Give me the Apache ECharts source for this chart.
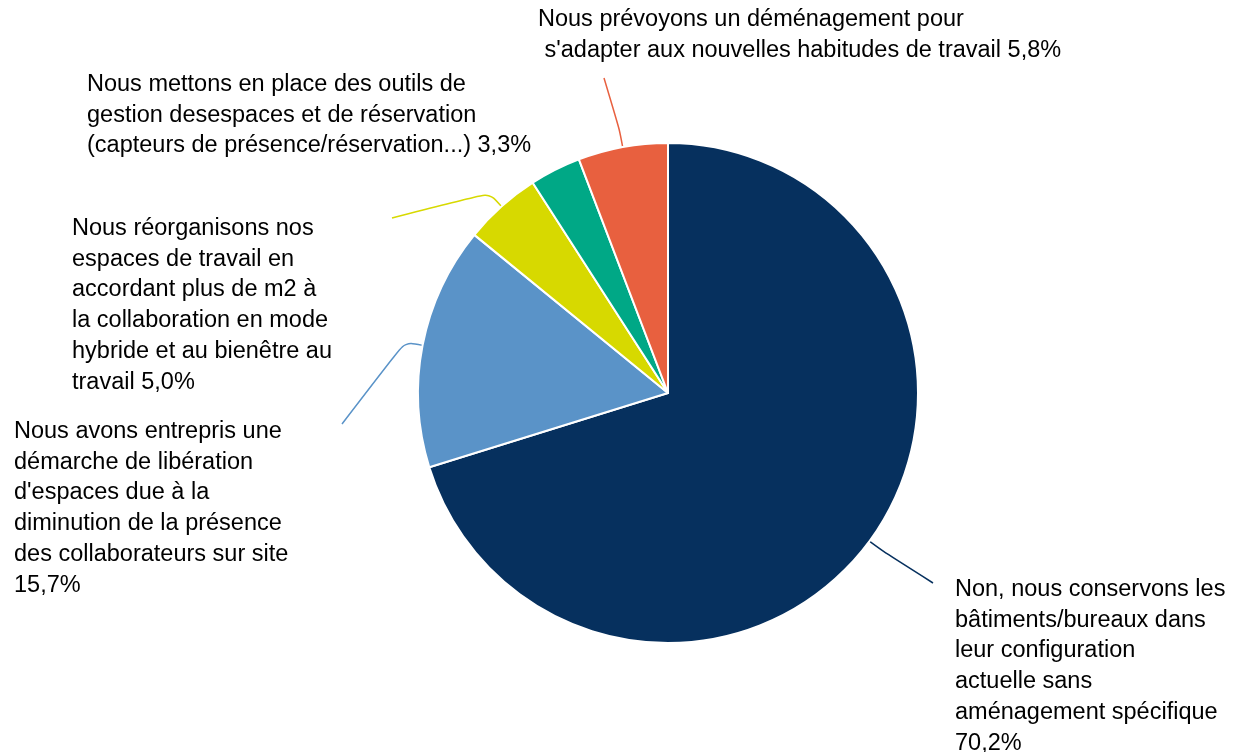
<!DOCTYPE html>
<html>
<head>
<meta charset="utf-8">
<script src="https://cdn.jsdelivr.net/npm/echarts@6/dist/echarts.min.js"></script>
<style>
html, body { margin: 0; padding: 0; background: #fff; }
#chart { width: 1236px; height: 752px; }
</style>
</head>
<body>
<div id="chart"></div>
<script>
'use strict';

// catégories (texte des étiquettes, découpé comme dans l'original)
const categories = [
  "Non, nous conservons les\nbâtiments/bureaux dans\nleur configuration\nactuelle sans\naménagement spécifique",
  "Nous avons entrepris une\ndémarche de libération\nd'espaces due à la\ndiminution de la présence\ndes collaborateurs sur site",
  "Nous réorganisons nos\nespaces de travail en\naccordant plus de m2 à\nla collaboration en mode\nhybride et au bienêtre au\ntravail",
  "Nous mettons en place des outils de\ngestion desespaces et de réservation\n(capteurs de présence/réservation...)",
  "Nous prévoyons un déménagement pour\n s'adapter aux nouvelles habitudes de travail"
];

// pourcentages
const values = [70.2, 15.7, 5.0, 3.3, 5.8];

// le pourcentage va à la ligne ou reste sur la dernière ligne
const pctNewLine = [true, true, false, false, false];

const colors = ['#06305e', '#5a93c8', '#d7d900', '#00a886', '#e8603f'];

// coin haut-gauche de chaque étiquette
const labelPos = [[955, 574], [14, 416], [72, 213], [87, 69], [538, 4]];
// bout du trait de rappel (null = pas de trait)
const lineEnd = [[933, 583], [342, 424], [392, 218], null, [604, 78]];

const fmt = (v) => v.toFixed(1).replace('.', ',') + '%';

const data = categories.map((c, i) => ({
  name: c,
  value: values[i],
  itemStyle: { color: colors[i] },
  labelLine: { show: lineEnd[i] != null, lineStyle: { color: colors[i] } }
}));

const chart = echarts.init(document.getElementById('chart'));

// point sur le bord de la part, au milieu de son angle
const edgePoint = (i, extra) => {
  const lay = chart.getModel().getSeriesByIndex(0).getData().getItemLayout(i);
  const mid = (lay.startAngle + lay.endAngle) / 2;
  const r = lay.r + extra;
  return [lay.cx + r * Math.cos(mid), lay.cy + r * Math.sin(mid)];
};

chart.setOption({
  animation: false,
  series: [{
    type: 'pie',
    center: [668, 393],
    radius: 250,
    startAngle: 90,
    clockwise: true,
    data: data,
    itemStyle: { borderColor: '#fff', borderWidth: 2 },
    label: {
      show: true,
      position: 'outside',
      color: '#000',
      fontFamily: 'Liberation Sans, Arial, sans-serif',
      fontSize: 23.5,
      lineHeight: 30.8,
      overflow: 'none',
      formatter: (p) => p.name + (pctNewLine[p.dataIndex] ? '\n' : ' ') + fmt(p.value)
    },
    labelLine: {
      show: true,
      length: 18,
      length2: 30,
      smooth: 0.3,
      lineStyle: { width: 1.5 }
    },
    labelLayout: (p) => {
      const i = p.dataIndex;
      const res = { x: labelPos[i][0], y: labelPos[i][1], align: 'left', verticalAlign: 'top' };
      if (lineEnd[i]) {
        res.labelLinePoints = [edgePoint(i, 0), edgePoint(i, 18), lineEnd[i]];
      }
      return res;
    }
  }]
});
</script>
</body>
</html>
